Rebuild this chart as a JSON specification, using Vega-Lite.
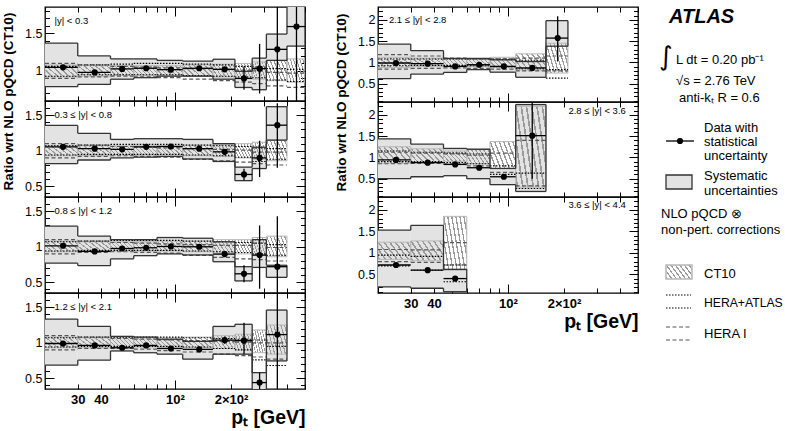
{
"$schema":"https://vega.github.io/schema/vega-lite/v6.json",
"padding":{"left":0,"top":5,"right":0,"bottom":0},
"background":"white",
"config":{"font":"Liberation Sans","view":{"stroke":"#000","strokeWidth":1.3},"axis":{"grid":false,"domain":false,"tickColor":"#000","labelColor":"#000","titleColor":"#000","labelFont":"Liberation Sans","titleFont":"Liberation Sans"}},
"datasets":{"d":[
{"p":"L1","lo":20,"hi":30,"xc":25,"v":1.048,"elo":1.038,"ehi":1.058,"slo":0.79,"shi":1.37,"clo":0.92,"chi":1.08,"alo":0.93,"ahi":1.06,"hlo":0.9,"hhi":1.1},
{"p":"L1","lo":30,"hi":45,"xc":37,"v":0.98,"elo":0.972,"ehi":0.988,"slo":0.82,"shi":1.2,"clo":0.93,"chi":1.07,"alo":0.95,"ahi":1.08,"hlo":0.92,"hhi":1.08},
{"p":"L1","lo":45,"hi":60,"xc":52,"v":1.027,"elo":1.02,"ehi":1.034,"slo":0.89,"shi":1.16,"clo":0.94,"chi":1.07,"alo":0.95,"ahi":1.09,"hlo":0.93,"hhi":1.06},
{"p":"L1","lo":60,"hi":80,"xc":70,"v":1.035,"elo":1.027,"ehi":1.043,"slo":0.91,"shi":1.16,"clo":0.94,"chi":1.07,"alo":0.95,"ahi":1.1,"hlo":0.92,"hhi":1.05},
{"p":"L1","lo":80,"hi":110,"xc":95,"v":1.017,"elo":1.008,"ehi":1.026,"slo":0.93,"shi":1.14,"clo":0.94,"chi":1.07,"alo":0.95,"ahi":1.1,"hlo":0.91,"hhi":1.04},
{"p":"L1","lo":110,"hi":160,"xc":135,"v":1.035,"elo":1.025,"ehi":1.045,"slo":0.93,"shi":1.13,"clo":0.93,"chi":1.08,"alo":0.94,"ahi":1.09,"hlo":0.89,"hhi":1.03},
{"p":"L1","lo":160,"hi":210,"xc":185,"v":1.021,"elo":0.99,"ehi":1.05,"slo":0.89,"shi":1.155,"clo":0.92,"chi":1.09,"alo":0.93,"ahi":1.08,"hlo":0.87,"hhi":1.02},
{"p":"L1","lo":210,"hi":260,"xc":235,"v":0.9,"elo":0.75,"ehi":1.06,"slo":0.78,"shi":0.995,"clo":0.9,"chi":1.1,"alo":0.92,"ahi":1.06,"hlo":0.85,"hhi":1.01},
{"p":"L1","lo":260,"hi":310,"xc":285,"v":1.03,"elo":0.7,"ehi":1.36,"slo":0.75,"shi":1.17,"clo":0.89,"chi":1.12,"alo":0.91,"ahi":1.05,"hlo":0.83,"hhi":1.0},
{"p":"L1","lo":310,"hi":400,"xc":355,"v":1.287,"elo":0.55,"ehi":2.0,"slo":1.14,"shi":1.49,"clo":0.87,"chi":1.14,"alo":0.88,"ahi":1.03,"hlo":0.8,"hhi":0.98},
{"p":"L1","lo":400,"hi":500,"xc":450,"v":1.59,"elo":0.5,"ehi":2.7,"slo":1.33,"shi":2.0,"clo":0.85,"chi":1.16,"alo":0.86,"ahi":1.02,"hlo":0.78,"hhi":0.97},
{"p":"L2","lo":20,"hi":30,"xc":25,"v":1.055,"elo":1.045,"ehi":1.065,"slo":0.82,"shi":1.357,"clo":0.93,"chi":1.07,"alo":0.94,"ahi":1.07,"hlo":0.9,"hhi":1.1},
{"p":"L2","lo":30,"hi":45,"xc":37,"v":1.03,"elo":1.022,"ehi":1.038,"slo":0.87,"shi":1.245,"clo":0.93,"chi":1.07,"alo":0.95,"ahi":1.08,"hlo":0.92,"hhi":1.08},
{"p":"L2","lo":45,"hi":60,"xc":52,"v":1.02,"elo":1.012,"ehi":1.028,"slo":0.9,"shi":1.16,"clo":0.94,"chi":1.07,"alo":0.95,"ahi":1.09,"hlo":0.93,"hhi":1.06},
{"p":"L2","lo":60,"hi":80,"xc":70,"v":1.055,"elo":1.046,"ehi":1.064,"slo":0.91,"shi":1.17,"clo":0.94,"chi":1.07,"alo":0.95,"ahi":1.09,"hlo":0.92,"hhi":1.05},
{"p":"L2","lo":80,"hi":110,"xc":95,"v":1.06,"elo":1.05,"ehi":1.07,"slo":0.92,"shi":1.17,"clo":0.94,"chi":1.07,"alo":0.95,"ahi":1.09,"hlo":0.91,"hhi":1.04},
{"p":"L2","lo":110,"hi":160,"xc":135,"v":1.03,"elo":1.018,"ehi":1.042,"slo":0.885,"shi":1.16,"clo":0.93,"chi":1.08,"alo":0.94,"ahi":1.08,"hlo":0.88,"hhi":1.03},
{"p":"L2","lo":160,"hi":210,"xc":185,"v":0.985,"elo":0.945,"ehi":1.025,"slo":0.85,"shi":1.1,"clo":0.92,"chi":1.09,"alo":0.93,"ahi":1.07,"hlo":0.86,"hhi":1.02},
{"p":"L2","lo":210,"hi":260,"xc":235,"v":0.667,"elo":0.587,"ehi":0.747,"slo":0.58,"shi":0.77,"clo":0.9,"chi":1.1,"alo":0.91,"ahi":1.06,"hlo":0.84,"hhi":1.01},
{"p":"L2","lo":260,"hi":310,"xc":285,"v":0.9,"elo":0.63,"ehi":1.14,"slo":0.75,"shi":1.05,"clo":0.88,"chi":1.12,"alo":0.85,"ahi":1.04,"hlo":0.82,"hhi":0.98},
{"p":"L2","lo":310,"hi":400,"xc":355,"v":1.36,"elo":0.76,"ehi":1.67,"slo":1.15,"shi":1.62,"clo":0.86,"chi":1.15,"alo":0.88,"ahi":1.03,"hlo":0.8,"hhi":0.98},
{"p":"L3","lo":20,"hi":30,"xc":25,"v":1.014,"elo":1.004,"ehi":1.024,"slo":0.77,"shi":1.29,"clo":0.93,"chi":1.08,"alo":0.94,"ahi":1.07,"hlo":0.9,"hhi":1.1},
{"p":"L3","lo":30,"hi":45,"xc":37,"v":0.935,"elo":0.927,"ehi":0.943,"slo":0.735,"shi":1.15,"clo":0.93,"chi":1.07,"alo":0.95,"ahi":1.08,"hlo":0.92,"hhi":1.08},
{"p":"L3","lo":45,"hi":60,"xc":52,"v":0.976,"elo":0.968,"ehi":0.984,"slo":0.83,"shi":1.1,"clo":0.94,"chi":1.07,"alo":0.95,"ahi":1.09,"hlo":0.93,"hhi":1.06},
{"p":"L3","lo":60,"hi":80,"xc":70,"v":0.986,"elo":0.977,"ehi":0.995,"slo":0.875,"shi":1.1,"clo":0.94,"chi":1.07,"alo":0.95,"ahi":1.09,"hlo":0.92,"hhi":1.05},
{"p":"L3","lo":80,"hi":110,"xc":95,"v":1.004,"elo":0.994,"ehi":1.014,"slo":0.9,"shi":1.13,"clo":0.94,"chi":1.08,"alo":0.95,"ahi":1.09,"hlo":0.91,"hhi":1.04},
{"p":"L3","lo":110,"hi":160,"xc":135,"v":1.0,"elo":0.988,"ehi":1.012,"slo":0.885,"shi":1.12,"clo":0.93,"chi":1.08,"alo":0.94,"ahi":1.08,"hlo":0.88,"hhi":1.03},
{"p":"L3","lo":160,"hi":210,"xc":185,"v":0.897,"elo":0.857,"ehi":0.937,"slo":0.79,"shi":1.07,"clo":0.91,"chi":1.1,"alo":0.93,"ahi":1.07,"hlo":0.85,"hhi":1.02},
{"p":"L3","lo":210,"hi":260,"xc":235,"v":0.62,"elo":0.5,"ehi":0.74,"slo":0.52,"shi":0.72,"clo":0.9,"chi":1.1,"alo":0.92,"ahi":1.06,"hlo":0.83,"hhi":1.02},
{"p":"L3","lo":260,"hi":310,"xc":285,"v":0.883,"elo":0.41,"ehi":1.3,"slo":0.71,"shi":1.1,"clo":0.88,"chi":1.13,"alo":0.9,"ahi":1.05,"hlo":0.82,"hhi":1.05},
{"p":"L3","lo":310,"hi":400,"xc":355,"v":0.72,"elo":0.0,"ehi":1.43,"slo":0.57,"shi":0.74,"clo":0.86,"chi":1.15,"alo":0.88,"ahi":1.03,"hlo":0.8,"hhi":0.99},
{"p":"L4","lo":20,"hi":30,"xc":25,"v":0.99,"elo":0.98,"ehi":1.0,"slo":0.685,"shi":1.333,"clo":0.93,"chi":1.08,"alo":0.94,"ahi":1.07,"hlo":0.9,"hhi":1.1},
{"p":"L4","lo":30,"hi":45,"xc":37,"v":0.963,"elo":0.955,"ehi":0.971,"slo":0.755,"shi":1.23,"clo":0.93,"chi":1.07,"alo":0.95,"ahi":1.08,"hlo":0.92,"hhi":1.08},
{"p":"L4","lo":45,"hi":60,"xc":52,"v":0.93,"elo":0.922,"ehi":0.938,"slo":0.885,"shi":1.09,"clo":0.94,"chi":1.07,"alo":0.95,"ahi":1.08,"hlo":0.92,"hhi":1.06},
{"p":"L4","lo":60,"hi":80,"xc":70,"v":0.963,"elo":0.954,"ehi":0.972,"slo":0.86,"shi":1.08,"clo":0.94,"chi":1.07,"alo":0.95,"ahi":1.08,"hlo":0.91,"hhi":1.05},
{"p":"L4","lo":80,"hi":110,"xc":95,"v":0.92,"elo":0.91,"ehi":0.93,"slo":0.84,"shi":1.05,"clo":0.94,"chi":1.07,"alo":0.95,"ahi":1.08,"hlo":0.89,"hhi":1.04},
{"p":"L4","lo":110,"hi":160,"xc":135,"v":0.907,"elo":0.895,"ehi":0.919,"slo":0.77,"shi":1.02,"clo":0.93,"chi":1.08,"alo":0.94,"ahi":1.07,"hlo":0.87,"hhi":1.03},
{"p":"L4","lo":160,"hi":210,"xc":185,"v":1.037,"elo":0.987,"ehi":1.087,"slo":0.84,"shi":1.23,"clo":0.92,"chi":1.1,"alo":0.92,"ahi":1.06,"hlo":0.84,"hhi":1.02},
{"p":"L4","lo":210,"hi":260,"xc":235,"v":1.03,"elo":0.84,"ehi":1.28,"slo":0.84,"shi":1.26,"clo":0.9,"chi":1.12,"alo":0.9,"ahi":1.05,"hlo":0.82,"hhi":1.01},
{"p":"L4","lo":260,"hi":310,"xc":285,"v":0.44,"elo":0.3,"ehi":0.58,"slo":0.3,"shi":0.58,"clo":0.86,"chi":1.18,"alo":0.76,"ahi":1.04,"hlo":0.8,"hhi":1.0},
{"p":"L4","lo":310,"hi":400,"xc":355,"v":1.115,"elo":0.0,"ehi":2.0,"slo":0.745,"shi":1.46,"clo":0.84,"chi":1.25,"alo":0.68,"ahi":0.95,"hlo":0.77,"hhi":1.0},
{"p":"R1","lo":20,"hi":30,"xc":25,"v":0.985,"elo":0.965,"ehi":1.005,"slo":0.62,"shi":1.43,"clo":0.88,"chi":1.12,"alo":0.92,"ahi":1.08,"hlo":0.84,"hhi":1.18},
{"p":"R1","lo":30,"hi":45,"xc":37,"v":0.97,"elo":0.95,"ehi":0.99,"slo":0.725,"shi":1.275,"clo":0.9,"chi":1.1,"alo":0.93,"ahi":1.08,"hlo":0.86,"hhi":1.15},
{"p":"R1","lo":45,"hi":60,"xc":52,"v":0.906,"elo":0.886,"ehi":0.926,"slo":0.765,"shi":1.09,"clo":0.9,"chi":1.1,"alo":0.93,"ahi":1.08,"hlo":0.87,"hhi":1.1},
{"p":"R1","lo":60,"hi":80,"xc":70,"v":0.945,"elo":0.925,"ehi":0.965,"slo":0.83,"shi":1.09,"clo":0.9,"chi":1.1,"alo":0.92,"ahi":1.08,"hlo":0.86,"hhi":1.08},
{"p":"R1","lo":80,"hi":110,"xc":95,"v":0.906,"elo":0.886,"ehi":0.926,"slo":0.77,"shi":1.06,"clo":0.88,"chi":1.12,"alo":0.9,"ahi":1.07,"hlo":0.84,"hhi":1.08},
{"p":"R1","lo":110,"hi":160,"xc":135,"v":0.87,"elo":0.82,"ehi":0.92,"slo":0.65,"shi":1.02,"clo":0.82,"chi":1.2,"alo":0.85,"ahi":1.05,"hlo":0.8,"hhi":1.1},
{"p":"R1","lo":160,"hi":210,"xc":185,"v":1.57,"elo":1.02,"ehi":2.08,"slo":1.38,"shi":1.98,"clo":0.75,"chi":1.45,"alo":0.63,"ahi":0.83,"hlo":0.8,"hhi":1.15},
{"p":"R2","lo":20,"hi":30,"xc":25,"v":0.94,"elo":0.92,"ehi":0.96,"slo":0.5,"shi":1.435,"clo":0.86,"chi":1.25,"alo":0.9,"ahi":1.15,"hlo":0.85,"hhi":1.12},
{"p":"R2","lo":30,"hi":45,"xc":37,"v":0.875,"elo":0.855,"ehi":0.895,"slo":0.545,"shi":1.31,"clo":0.88,"chi":1.2,"alo":0.9,"ahi":1.12,"hlo":0.86,"hhi":1.1},
{"p":"R2","lo":45,"hi":60,"xc":52,"v":0.835,"elo":0.815,"ehi":0.855,"slo":0.57,"shi":1.21,"clo":0.9,"chi":1.15,"alo":0.88,"ahi":1.1,"hlo":0.85,"hhi":1.08},
{"p":"R2","lo":60,"hi":80,"xc":70,"v":0.757,"elo":0.737,"ehi":0.777,"slo":0.5,"shi":1.19,"clo":0.85,"chi":1.2,"alo":0.85,"ahi":1.08,"hlo":0.8,"hhi":1.05},
{"p":"R2","lo":80,"hi":110,"xc":95,"v":0.545,"elo":0.505,"ehi":0.585,"slo":0.36,"shi":0.74,"clo":0.74,"chi":1.37,"alo":0.6,"ahi":0.8,"hlo":0.65,"hhi":1.1},
{"p":"R2","lo":110,"hi":160,"xc":135,"v":1.51,"elo":0.5,"ehi":2.3,"slo":0.2,"shi":2.24,"clo":0.3,"chi":2.2,"alo":0.27,"ahi":0.63,"hlo":0.33,"hhi":1.4},
{"p":"R3","lo":20,"hi":30,"xc":25,"v":0.72,"elo":0.68,"ehi":0.76,"slo":0.21,"shi":1.53,"clo":0.85,"chi":1.25,"alo":0.7,"ahi":0.95,"hlo":0.8,"hhi":1.08},
{"p":"R3","lo":30,"hi":45,"xc":37,"v":0.6,"elo":0.56,"ehi":0.64,"slo":0.18,"shi":1.64,"clo":0.82,"chi":1.28,"alo":0.6,"ahi":0.92,"hlo":0.78,"hhi":1.07},
{"p":"R3","lo":45,"hi":60,"xc":52,"v":0.405,"elo":0.355,"ehi":0.455,"slo":0.1,"shi":0.62,"clo":0.6,"chi":1.85,"alo":0.33,"ahi":0.72,"hlo":0.72,"hhi":1.24}
]},
"hconcat":[
{"hconcat":[
{"vconcat":[
{"width":260,"height":94,"data":{"name":"d"},
"transform":[{"filter":"datum.p == 'L1'"},{"window":[{"op":"lag","field":"shi","as":"pshi"},{"op":"lag","field":"slo","as":"pslo"},{"op":"lead","field":"lo","as":"nlo"}],"sort":[{"field":"lo"}]}],
"resolve":{"axis":{"x":"independent","y":"independent"}},
"layer":[
{"mark":{"type":"rect","fill":"#e3e3e3","clip":true},"encoding":{"x":{"field":"lo","type":"quantitative","scale":{"type":"log","domain":[20,500],"nice":false},"axis":{"orient":"bottom","values":[20,30,40,50,60,70,80,90,100,200,300,400,500],"labels":false,"title":null,"tickSize":{"condition":{"test":"datum.value == 100","value":-9},"value":-5}}},"x2":{"field":"hi"},"y":{"field":"slo","type":"quantitative","scale":{"domain":[0.6,1.85],"nice":false,"zero":false},"axis":{"orient":"left","values":[0.4,0.5,0.6,0.7,0.8,0.9,1,1.1,1.2,1.3,1.4,1.5,1.6,1.7,1.8],"labels":false,"title":null,"tickSize":{"condition":{"test":"abs(datum.value*2-round(datum.value*2))<0.001","value":-9},"value":-4.5}}},"y2":{"field":"shi"}}},
{"mark":{"type":"rect","fill":{"gradient":"linear","x1":-0.1,"y1":0.74,"x2":1.1,"y2":0.26,"stops":[{"offset":0,"color":"rgba(255,255,255,0)"},{"offset":0.02,"color":"rgba(255,255,255,0)"},{"offset":0.02,"color":"#9a9a9a"},{"offset":0.06,"color":"#9a9a9a"},{"offset":0.06,"color":"rgba(255,255,255,0)"},{"offset":0.145,"color":"rgba(255,255,255,0)"},{"offset":0.145,"color":"#9a9a9a"},{"offset":0.185,"color":"#9a9a9a"},{"offset":0.185,"color":"rgba(255,255,255,0)"},{"offset":0.27,"color":"rgba(255,255,255,0)"},{"offset":0.27,"color":"#9a9a9a"},{"offset":0.31,"color":"#9a9a9a"},{"offset":0.31,"color":"rgba(255,255,255,0)"},{"offset":0.395,"color":"rgba(255,255,255,0)"},{"offset":0.395,"color":"#9a9a9a"},{"offset":0.435,"color":"#9a9a9a"},{"offset":0.435,"color":"rgba(255,255,255,0)"},{"offset":0.52,"color":"rgba(255,255,255,0)"},{"offset":0.52,"color":"#9a9a9a"},{"offset":0.56,"color":"#9a9a9a"},{"offset":0.56,"color":"rgba(255,255,255,0)"},{"offset":0.645,"color":"rgba(255,255,255,0)"},{"offset":0.645,"color":"#9a9a9a"},{"offset":0.685,"color":"#9a9a9a"},{"offset":0.685,"color":"rgba(255,255,255,0)"},{"offset":0.77,"color":"rgba(255,255,255,0)"},{"offset":0.77,"color":"#9a9a9a"},{"offset":0.81,"color":"#9a9a9a"},{"offset":0.81,"color":"rgba(255,255,255,0)"},{"offset":0.895,"color":"rgba(255,255,255,0)"},{"offset":0.895,"color":"#9a9a9a"},{"offset":0.935,"color":"#9a9a9a"},{"offset":0.935,"color":"rgba(255,255,255,0)"},{"offset":1,"color":"rgba(255,255,255,0)"}]},"stroke":"#b8b8b8","strokeWidth":1,"clip":true},"encoding":{"x":{"field":"lo","type":"quantitative","axis":{"orient":"top","values":[20,30,40,50,60,70,80,90,100,200,300,400,500],"labels":false,"title":null,"tickSize":{"condition":{"test":"datum.value == 100","value":-9},"value":-5}}},"x2":{"field":"hi"},"y":{"field":"clo","type":"quantitative","axis":{"orient":"right","values":[0.4,0.5,0.6,0.7,0.8,0.9,1,1.1,1.2,1.3,1.4,1.5,1.6,1.7,1.8],"labels":false,"title":null,"tickSize":{"condition":{"test":"abs(datum.value*2-round(datum.value*2))<0.001","value":-9},"value":-4.5}}},"y2":{"field":"chi"}}},
{"mark":{"type":"rule","stroke":"#000","strokeDash":[1.5,1.5],"strokeWidth":1.1,"clip":true},"encoding":{"x":{"field":"lo","type":"quantitative","axis":null},"x2":{"field":"hi"},"y":{"field":"ahi","type":"quantitative","axis":{"orient":"left","values":[0.5,1,1.5],"ticks":false,"labelPadding":3,"format":"~g","labelFontSize":12.5,"title":"Ratio wrt NLO pQCD (CT10)","titleFontSize":13.5,"titleFontWeight":"bold","titleY":94,"titlePadding":9}}}},
{"mark":{"type":"rule","stroke":"#000","strokeDash":[1.5,1.5],"strokeWidth":1.1,"clip":true},"encoding":{"x":{"field":"lo","type":"quantitative","axis":null},"x2":{"field":"hi"},"y":{"field":"alo","type":"quantitative","axis":null}}},
{"mark":{"type":"rule","stroke":"#555","strokeDash":[4,2.5],"strokeWidth":1.2,"clip":true},"encoding":{"x":{"field":"lo","type":"quantitative","axis":null},"x2":{"field":"hi"},"y":{"field":"hhi","type":"quantitative","axis":null}}},
{"mark":{"type":"rule","stroke":"#555","strokeDash":[4,2.5],"strokeWidth":1.2,"clip":true},"encoding":{"x":{"field":"lo","type":"quantitative","axis":null},"x2":{"field":"hi"},"y":{"field":"hlo","type":"quantitative","axis":null}}},
{"mark":{"type":"rule","stroke":"#333","strokeWidth":1.3,"clip":true},"encoding":{"x":{"field":"lo","type":"quantitative","axis":null},"x2":{"field":"hi"},"y":{"field":"shi","type":"quantitative","axis":null}}},
{"mark":{"type":"rule","stroke":"#333","strokeWidth":1.3,"clip":true},"encoding":{"x":{"field":"lo","type":"quantitative","axis":null},"x2":{"field":"hi"},"y":{"field":"slo","type":"quantitative","axis":null}}},
{"mark":{"type":"rule","stroke":"#333","strokeWidth":1.3,"clip":true},"encoding":{"x":{"field":"lo","type":"quantitative","axis":null},"y":{"field":"pshi","type":"quantitative","axis":null},"y2":{"field":"shi"}}},
{"mark":{"type":"rule","stroke":"#333","strokeWidth":1.3,"clip":true},"encoding":{"x":{"field":"lo","type":"quantitative","axis":null},"y":{"field":"pslo","type":"quantitative","axis":null},"y2":{"field":"slo"}}},
{"transform":[{"filter":"datum.nlo == null"}],"mark":{"type":"rule","stroke":"#333","strokeWidth":1.3,"clip":true},"encoding":{"x":{"field":"hi","type":"quantitative","axis":null},"y":{"field":"slo","type":"quantitative","axis":null},"y2":{"field":"shi"}}},
{"mark":{"type":"rule","stroke":"#000","strokeWidth":1.3,"clip":true},"encoding":{"x":{"field":"lo","type":"quantitative","axis":null},"x2":{"field":"hi"},"y":{"field":"v","type":"quantitative","axis":null}}},
{"mark":{"type":"rule","stroke":"#000","strokeWidth":1.3,"clip":true},"encoding":{"x":{"field":"xc","type":"quantitative","axis":null},"y":{"field":"elo","type":"quantitative","axis":null},"y2":{"field":"ehi"}}},
{"mark":{"type":"point","filled":true,"shape":"circle","size":38,"color":"#000","opacity":1,"clip":true},"encoding":{"x":{"field":"xc","type":"quantitative","axis":null},"y":{"field":"v","type":"quantitative","axis":null}}},
{"transform":[{"filter":"datum.lo == 20"}],"mark":{"type":"text","text":"|y| < 0.3","align":"left","baseline":"middle","fontSize":9.5},"encoding":{"x":{"datum":22.5,"type":"quantitative","axis":null},"y":{"datum":1.67,"type":"quantitative","axis":null}}}
]},
{"width":260,"height":96,"data":{"name":"d"},
"transform":[{"filter":"datum.p == 'L2'"},{"window":[{"op":"lag","field":"shi","as":"pshi"},{"op":"lag","field":"slo","as":"pslo"},{"op":"lead","field":"lo","as":"nlo"}],"sort":[{"field":"lo"}]}],
"resolve":{"axis":{"x":"independent","y":"independent"}},
"layer":[
{"mark":{"type":"rect","fill":"#e3e3e3","clip":true},"encoding":{"x":{"field":"lo","type":"quantitative","scale":{"type":"log","domain":[20,500],"nice":false},"axis":{"orient":"bottom","values":[20,30,40,50,60,70,80,90,100,200,300,400,500],"labels":false,"title":null,"tickSize":{"condition":{"test":"datum.value == 100","value":-9},"value":-5}}},"x2":{"field":"hi"},"y":{"field":"slo","type":"quantitative","scale":{"domain":[0.35,1.7],"nice":false,"zero":false},"axis":{"orient":"left","values":[0.4,0.5,0.6,0.7,0.8,0.9,1,1.1,1.2,1.3,1.4,1.5,1.6,1.7,1.8],"labels":false,"title":null,"tickSize":{"condition":{"test":"abs(datum.value*2-round(datum.value*2))<0.001","value":-9},"value":-4.5}}},"y2":{"field":"shi"}}},
{"mark":{"type":"rect","fill":{"gradient":"linear","x1":-0.1,"y1":0.74,"x2":1.1,"y2":0.26,"stops":[{"offset":0,"color":"rgba(255,255,255,0)"},{"offset":0.02,"color":"rgba(255,255,255,0)"},{"offset":0.02,"color":"#9a9a9a"},{"offset":0.06,"color":"#9a9a9a"},{"offset":0.06,"color":"rgba(255,255,255,0)"},{"offset":0.145,"color":"rgba(255,255,255,0)"},{"offset":0.145,"color":"#9a9a9a"},{"offset":0.185,"color":"#9a9a9a"},{"offset":0.185,"color":"rgba(255,255,255,0)"},{"offset":0.27,"color":"rgba(255,255,255,0)"},{"offset":0.27,"color":"#9a9a9a"},{"offset":0.31,"color":"#9a9a9a"},{"offset":0.31,"color":"rgba(255,255,255,0)"},{"offset":0.395,"color":"rgba(255,255,255,0)"},{"offset":0.395,"color":"#9a9a9a"},{"offset":0.435,"color":"#9a9a9a"},{"offset":0.435,"color":"rgba(255,255,255,0)"},{"offset":0.52,"color":"rgba(255,255,255,0)"},{"offset":0.52,"color":"#9a9a9a"},{"offset":0.56,"color":"#9a9a9a"},{"offset":0.56,"color":"rgba(255,255,255,0)"},{"offset":0.645,"color":"rgba(255,255,255,0)"},{"offset":0.645,"color":"#9a9a9a"},{"offset":0.685,"color":"#9a9a9a"},{"offset":0.685,"color":"rgba(255,255,255,0)"},{"offset":0.77,"color":"rgba(255,255,255,0)"},{"offset":0.77,"color":"#9a9a9a"},{"offset":0.81,"color":"#9a9a9a"},{"offset":0.81,"color":"rgba(255,255,255,0)"},{"offset":0.895,"color":"rgba(255,255,255,0)"},{"offset":0.895,"color":"#9a9a9a"},{"offset":0.935,"color":"#9a9a9a"},{"offset":0.935,"color":"rgba(255,255,255,0)"},{"offset":1,"color":"rgba(255,255,255,0)"}]},"stroke":"#b8b8b8","strokeWidth":1,"clip":true},"encoding":{"x":{"field":"lo","type":"quantitative","axis":{"orient":"top","values":[20,30,40,50,60,70,80,90,100,200,300,400,500],"labels":false,"title":null,"tickSize":{"condition":{"test":"datum.value == 100","value":-9},"value":-5}}},"x2":{"field":"hi"},"y":{"field":"clo","type":"quantitative","axis":{"orient":"right","values":[0.4,0.5,0.6,0.7,0.8,0.9,1,1.1,1.2,1.3,1.4,1.5,1.6,1.7,1.8],"labels":false,"title":null,"tickSize":{"condition":{"test":"abs(datum.value*2-round(datum.value*2))<0.001","value":-9},"value":-4.5}}},"y2":{"field":"chi"}}},
{"mark":{"type":"rule","stroke":"#000","strokeDash":[1.5,1.5],"strokeWidth":1.1,"clip":true},"encoding":{"x":{"field":"lo","type":"quantitative","axis":null},"x2":{"field":"hi"},"y":{"field":"ahi","type":"quantitative","axis":{"orient":"left","values":[0.5,1,1.5],"ticks":false,"labelPadding":3,"format":"~g","labelFontSize":12.5,"title":null}}}},
{"mark":{"type":"rule","stroke":"#000","strokeDash":[1.5,1.5],"strokeWidth":1.1,"clip":true},"encoding":{"x":{"field":"lo","type":"quantitative","axis":null},"x2":{"field":"hi"},"y":{"field":"alo","type":"quantitative","axis":null}}},
{"mark":{"type":"rule","stroke":"#555","strokeDash":[4,2.5],"strokeWidth":1.2,"clip":true},"encoding":{"x":{"field":"lo","type":"quantitative","axis":null},"x2":{"field":"hi"},"y":{"field":"hhi","type":"quantitative","axis":null}}},
{"mark":{"type":"rule","stroke":"#555","strokeDash":[4,2.5],"strokeWidth":1.2,"clip":true},"encoding":{"x":{"field":"lo","type":"quantitative","axis":null},"x2":{"field":"hi"},"y":{"field":"hlo","type":"quantitative","axis":null}}},
{"mark":{"type":"rule","stroke":"#333","strokeWidth":1.3,"clip":true},"encoding":{"x":{"field":"lo","type":"quantitative","axis":null},"x2":{"field":"hi"},"y":{"field":"shi","type":"quantitative","axis":null}}},
{"mark":{"type":"rule","stroke":"#333","strokeWidth":1.3,"clip":true},"encoding":{"x":{"field":"lo","type":"quantitative","axis":null},"x2":{"field":"hi"},"y":{"field":"slo","type":"quantitative","axis":null}}},
{"mark":{"type":"rule","stroke":"#333","strokeWidth":1.3,"clip":true},"encoding":{"x":{"field":"lo","type":"quantitative","axis":null},"y":{"field":"pshi","type":"quantitative","axis":null},"y2":{"field":"shi"}}},
{"mark":{"type":"rule","stroke":"#333","strokeWidth":1.3,"clip":true},"encoding":{"x":{"field":"lo","type":"quantitative","axis":null},"y":{"field":"pslo","type":"quantitative","axis":null},"y2":{"field":"slo"}}},
{"transform":[{"filter":"datum.nlo == null"}],"mark":{"type":"rule","stroke":"#333","strokeWidth":1.3,"clip":true},"encoding":{"x":{"field":"hi","type":"quantitative","axis":null},"y":{"field":"slo","type":"quantitative","axis":null},"y2":{"field":"shi"}}},
{"mark":{"type":"rule","stroke":"#000","strokeWidth":1.3,"clip":true},"encoding":{"x":{"field":"lo","type":"quantitative","axis":null},"x2":{"field":"hi"},"y":{"field":"v","type":"quantitative","axis":null}}},
{"mark":{"type":"rule","stroke":"#000","strokeWidth":1.3,"clip":true},"encoding":{"x":{"field":"xc","type":"quantitative","axis":null},"y":{"field":"elo","type":"quantitative","axis":null},"y2":{"field":"ehi"}}},
{"mark":{"type":"point","filled":true,"shape":"circle","size":38,"color":"#000","opacity":1,"clip":true},"encoding":{"x":{"field":"xc","type":"quantitative","axis":null},"y":{"field":"v","type":"quantitative","axis":null}}},
{"transform":[{"filter":"datum.lo == 20"}],"mark":{"type":"text","text":"0.3 ≤ |y| < 0.8","align":"left","baseline":"middle","fontSize":9.5},"encoding":{"x":{"datum":22.5,"type":"quantitative","axis":null},"y":{"datum":1.5,"type":"quantitative","axis":null}}}
]},
{"width":260,"height":96,"data":{"name":"d"},
"transform":[{"filter":"datum.p == 'L3'"},{"window":[{"op":"lag","field":"shi","as":"pshi"},{"op":"lag","field":"slo","as":"pslo"},{"op":"lead","field":"lo","as":"nlo"}],"sort":[{"field":"lo"}]}],
"resolve":{"axis":{"x":"independent","y":"independent"}},
"layer":[
{"mark":{"type":"rect","fill":"#e3e3e3","clip":true},"encoding":{"x":{"field":"lo","type":"quantitative","scale":{"type":"log","domain":[20,500],"nice":false},"axis":{"orient":"bottom","values":[20,30,40,50,60,70,80,90,100,200,300,400,500],"labels":false,"title":null,"tickSize":{"condition":{"test":"datum.value == 100","value":-9},"value":-5}}},"x2":{"field":"hi"},"y":{"field":"slo","type":"quantitative","scale":{"domain":[0.35,1.7],"nice":false,"zero":false},"axis":{"orient":"left","values":[0.4,0.5,0.6,0.7,0.8,0.9,1,1.1,1.2,1.3,1.4,1.5,1.6,1.7,1.8],"labels":false,"title":null,"tickSize":{"condition":{"test":"abs(datum.value*2-round(datum.value*2))<0.001","value":-9},"value":-4.5}}},"y2":{"field":"shi"}}},
{"mark":{"type":"rect","fill":{"gradient":"linear","x1":-0.1,"y1":0.74,"x2":1.1,"y2":0.26,"stops":[{"offset":0,"color":"rgba(255,255,255,0)"},{"offset":0.02,"color":"rgba(255,255,255,0)"},{"offset":0.02,"color":"#9a9a9a"},{"offset":0.06,"color":"#9a9a9a"},{"offset":0.06,"color":"rgba(255,255,255,0)"},{"offset":0.145,"color":"rgba(255,255,255,0)"},{"offset":0.145,"color":"#9a9a9a"},{"offset":0.185,"color":"#9a9a9a"},{"offset":0.185,"color":"rgba(255,255,255,0)"},{"offset":0.27,"color":"rgba(255,255,255,0)"},{"offset":0.27,"color":"#9a9a9a"},{"offset":0.31,"color":"#9a9a9a"},{"offset":0.31,"color":"rgba(255,255,255,0)"},{"offset":0.395,"color":"rgba(255,255,255,0)"},{"offset":0.395,"color":"#9a9a9a"},{"offset":0.435,"color":"#9a9a9a"},{"offset":0.435,"color":"rgba(255,255,255,0)"},{"offset":0.52,"color":"rgba(255,255,255,0)"},{"offset":0.52,"color":"#9a9a9a"},{"offset":0.56,"color":"#9a9a9a"},{"offset":0.56,"color":"rgba(255,255,255,0)"},{"offset":0.645,"color":"rgba(255,255,255,0)"},{"offset":0.645,"color":"#9a9a9a"},{"offset":0.685,"color":"#9a9a9a"},{"offset":0.685,"color":"rgba(255,255,255,0)"},{"offset":0.77,"color":"rgba(255,255,255,0)"},{"offset":0.77,"color":"#9a9a9a"},{"offset":0.81,"color":"#9a9a9a"},{"offset":0.81,"color":"rgba(255,255,255,0)"},{"offset":0.895,"color":"rgba(255,255,255,0)"},{"offset":0.895,"color":"#9a9a9a"},{"offset":0.935,"color":"#9a9a9a"},{"offset":0.935,"color":"rgba(255,255,255,0)"},{"offset":1,"color":"rgba(255,255,255,0)"}]},"stroke":"#b8b8b8","strokeWidth":1,"clip":true},"encoding":{"x":{"field":"lo","type":"quantitative","axis":{"orient":"top","values":[20,30,40,50,60,70,80,90,100,200,300,400,500],"labels":false,"title":null,"tickSize":{"condition":{"test":"datum.value == 100","value":-9},"value":-5}}},"x2":{"field":"hi"},"y":{"field":"clo","type":"quantitative","axis":{"orient":"right","values":[0.4,0.5,0.6,0.7,0.8,0.9,1,1.1,1.2,1.3,1.4,1.5,1.6,1.7,1.8],"labels":false,"title":null,"tickSize":{"condition":{"test":"abs(datum.value*2-round(datum.value*2))<0.001","value":-9},"value":-4.5}}},"y2":{"field":"chi"}}},
{"mark":{"type":"rule","stroke":"#000","strokeDash":[1.5,1.5],"strokeWidth":1.1,"clip":true},"encoding":{"x":{"field":"lo","type":"quantitative","axis":null},"x2":{"field":"hi"},"y":{"field":"ahi","type":"quantitative","axis":{"orient":"left","values":[0.5,1,1.5],"ticks":false,"labelPadding":3,"format":"~g","labelFontSize":12.5,"title":null}}}},
{"mark":{"type":"rule","stroke":"#000","strokeDash":[1.5,1.5],"strokeWidth":1.1,"clip":true},"encoding":{"x":{"field":"lo","type":"quantitative","axis":null},"x2":{"field":"hi"},"y":{"field":"alo","type":"quantitative","axis":null}}},
{"mark":{"type":"rule","stroke":"#555","strokeDash":[4,2.5],"strokeWidth":1.2,"clip":true},"encoding":{"x":{"field":"lo","type":"quantitative","axis":null},"x2":{"field":"hi"},"y":{"field":"hhi","type":"quantitative","axis":null}}},
{"mark":{"type":"rule","stroke":"#555","strokeDash":[4,2.5],"strokeWidth":1.2,"clip":true},"encoding":{"x":{"field":"lo","type":"quantitative","axis":null},"x2":{"field":"hi"},"y":{"field":"hlo","type":"quantitative","axis":null}}},
{"mark":{"type":"rule","stroke":"#333","strokeWidth":1.3,"clip":true},"encoding":{"x":{"field":"lo","type":"quantitative","axis":null},"x2":{"field":"hi"},"y":{"field":"shi","type":"quantitative","axis":null}}},
{"mark":{"type":"rule","stroke":"#333","strokeWidth":1.3,"clip":true},"encoding":{"x":{"field":"lo","type":"quantitative","axis":null},"x2":{"field":"hi"},"y":{"field":"slo","type":"quantitative","axis":null}}},
{"mark":{"type":"rule","stroke":"#333","strokeWidth":1.3,"clip":true},"encoding":{"x":{"field":"lo","type":"quantitative","axis":null},"y":{"field":"pshi","type":"quantitative","axis":null},"y2":{"field":"shi"}}},
{"mark":{"type":"rule","stroke":"#333","strokeWidth":1.3,"clip":true},"encoding":{"x":{"field":"lo","type":"quantitative","axis":null},"y":{"field":"pslo","type":"quantitative","axis":null},"y2":{"field":"slo"}}},
{"transform":[{"filter":"datum.nlo == null"}],"mark":{"type":"rule","stroke":"#333","strokeWidth":1.3,"clip":true},"encoding":{"x":{"field":"hi","type":"quantitative","axis":null},"y":{"field":"slo","type":"quantitative","axis":null},"y2":{"field":"shi"}}},
{"mark":{"type":"rule","stroke":"#000","strokeWidth":1.3,"clip":true},"encoding":{"x":{"field":"lo","type":"quantitative","axis":null},"x2":{"field":"hi"},"y":{"field":"v","type":"quantitative","axis":null}}},
{"mark":{"type":"rule","stroke":"#000","strokeWidth":1.3,"clip":true},"encoding":{"x":{"field":"xc","type":"quantitative","axis":null},"y":{"field":"elo","type":"quantitative","axis":null},"y2":{"field":"ehi"}}},
{"mark":{"type":"point","filled":true,"shape":"circle","size":38,"color":"#000","opacity":1,"clip":true},"encoding":{"x":{"field":"xc","type":"quantitative","axis":null},"y":{"field":"v","type":"quantitative","axis":null}}},
{"transform":[{"filter":"datum.lo == 20"}],"mark":{"type":"text","text":"0.8 ≤ |y| < 1.2","align":"left","baseline":"middle","fontSize":9.5},"encoding":{"x":{"datum":22.5,"type":"quantitative","axis":null},"y":{"datum":1.5,"type":"quantitative","axis":null}}}
]},
{"width":260,"height":96,"data":{"name":"d"},
"transform":[{"filter":"datum.p == 'L4'"},{"window":[{"op":"lag","field":"shi","as":"pshi"},{"op":"lag","field":"slo","as":"pslo"},{"op":"lead","field":"lo","as":"nlo"}],"sort":[{"field":"lo"}]}],
"resolve":{"axis":{"x":"independent","y":"independent"}},
"layer":[
{"mark":{"type":"rect","fill":"#e3e3e3","clip":true},"encoding":{"x":{"field":"lo","type":"quantitative","scale":{"type":"log","domain":[20,500],"nice":false},"axis":{"orient":"bottom","values":[20,30,40,50,60,70,80,90,100,200,300,400,500],"labels":false,"title":null,"tickSize":{"condition":{"test":"datum.value == 100","value":-9},"value":-5}}},"x2":{"field":"hi"},"y":{"field":"slo","type":"quantitative","scale":{"domain":[0.35,1.7],"nice":false,"zero":false},"axis":{"orient":"left","values":[0.4,0.5,0.6,0.7,0.8,0.9,1,1.1,1.2,1.3,1.4,1.5,1.6,1.7,1.8],"labels":false,"title":null,"tickSize":{"condition":{"test":"abs(datum.value*2-round(datum.value*2))<0.001","value":-9},"value":-4.5}}},"y2":{"field":"shi"}}},
{"mark":{"type":"rect","fill":{"gradient":"linear","x1":-0.1,"y1":0.74,"x2":1.1,"y2":0.26,"stops":[{"offset":0,"color":"rgba(255,255,255,0)"},{"offset":0.02,"color":"rgba(255,255,255,0)"},{"offset":0.02,"color":"#9a9a9a"},{"offset":0.06,"color":"#9a9a9a"},{"offset":0.06,"color":"rgba(255,255,255,0)"},{"offset":0.145,"color":"rgba(255,255,255,0)"},{"offset":0.145,"color":"#9a9a9a"},{"offset":0.185,"color":"#9a9a9a"},{"offset":0.185,"color":"rgba(255,255,255,0)"},{"offset":0.27,"color":"rgba(255,255,255,0)"},{"offset":0.27,"color":"#9a9a9a"},{"offset":0.31,"color":"#9a9a9a"},{"offset":0.31,"color":"rgba(255,255,255,0)"},{"offset":0.395,"color":"rgba(255,255,255,0)"},{"offset":0.395,"color":"#9a9a9a"},{"offset":0.435,"color":"#9a9a9a"},{"offset":0.435,"color":"rgba(255,255,255,0)"},{"offset":0.52,"color":"rgba(255,255,255,0)"},{"offset":0.52,"color":"#9a9a9a"},{"offset":0.56,"color":"#9a9a9a"},{"offset":0.56,"color":"rgba(255,255,255,0)"},{"offset":0.645,"color":"rgba(255,255,255,0)"},{"offset":0.645,"color":"#9a9a9a"},{"offset":0.685,"color":"#9a9a9a"},{"offset":0.685,"color":"rgba(255,255,255,0)"},{"offset":0.77,"color":"rgba(255,255,255,0)"},{"offset":0.77,"color":"#9a9a9a"},{"offset":0.81,"color":"#9a9a9a"},{"offset":0.81,"color":"rgba(255,255,255,0)"},{"offset":0.895,"color":"rgba(255,255,255,0)"},{"offset":0.895,"color":"#9a9a9a"},{"offset":0.935,"color":"#9a9a9a"},{"offset":0.935,"color":"rgba(255,255,255,0)"},{"offset":1,"color":"rgba(255,255,255,0)"}]},"stroke":"#b8b8b8","strokeWidth":1,"clip":true},"encoding":{"x":{"field":"lo","type":"quantitative","axis":{"orient":"top","values":[20,30,40,50,60,70,80,90,100,200,300,400,500],"labels":false,"title":null,"tickSize":{"condition":{"test":"datum.value == 100","value":-9},"value":-5}}},"x2":{"field":"hi"},"y":{"field":"clo","type":"quantitative","axis":{"orient":"right","values":[0.4,0.5,0.6,0.7,0.8,0.9,1,1.1,1.2,1.3,1.4,1.5,1.6,1.7,1.8],"labels":false,"title":null,"tickSize":{"condition":{"test":"abs(datum.value*2-round(datum.value*2))<0.001","value":-9},"value":-4.5}}},"y2":{"field":"chi"}}},
{"mark":{"type":"rule","stroke":"#000","strokeDash":[1.5,1.5],"strokeWidth":1.1,"clip":true},"encoding":{"x":{"field":"lo","type":"quantitative","axis":{"orient":"bottom","values":[30,40,100,200],"ticks":false,"labelPadding":4,"labelFontSize":13,"labelFontWeight":"bold","labelOverlap":false,"labelFlush":false,"format":"d","labelExpr":"datum.value == 100 ? '10²' : datum.value == 200 ? '2×10²' : datum.label","title":"pₜ  [GeV]","titleFontSize":19.5,"titleFontWeight":"bold","titleAnchor":"end","titlePadding":2.5}},"x2":{"field":"hi"},"y":{"field":"ahi","type":"quantitative","axis":{"orient":"left","values":[0.5,1,1.5],"ticks":false,"labelPadding":3,"format":"~g","labelFontSize":12.5,"title":null}}}},
{"mark":{"type":"rule","stroke":"#000","strokeDash":[1.5,1.5],"strokeWidth":1.1,"clip":true},"encoding":{"x":{"field":"lo","type":"quantitative","axis":null},"x2":{"field":"hi"},"y":{"field":"alo","type":"quantitative","axis":null}}},
{"mark":{"type":"rule","stroke":"#555","strokeDash":[4,2.5],"strokeWidth":1.2,"clip":true},"encoding":{"x":{"field":"lo","type":"quantitative","axis":null},"x2":{"field":"hi"},"y":{"field":"hhi","type":"quantitative","axis":null}}},
{"mark":{"type":"rule","stroke":"#555","strokeDash":[4,2.5],"strokeWidth":1.2,"clip":true},"encoding":{"x":{"field":"lo","type":"quantitative","axis":null},"x2":{"field":"hi"},"y":{"field":"hlo","type":"quantitative","axis":null}}},
{"mark":{"type":"rule","stroke":"#333","strokeWidth":1.3,"clip":true},"encoding":{"x":{"field":"lo","type":"quantitative","axis":null},"x2":{"field":"hi"},"y":{"field":"shi","type":"quantitative","axis":null}}},
{"mark":{"type":"rule","stroke":"#333","strokeWidth":1.3,"clip":true},"encoding":{"x":{"field":"lo","type":"quantitative","axis":null},"x2":{"field":"hi"},"y":{"field":"slo","type":"quantitative","axis":null}}},
{"mark":{"type":"rule","stroke":"#333","strokeWidth":1.3,"clip":true},"encoding":{"x":{"field":"lo","type":"quantitative","axis":null},"y":{"field":"pshi","type":"quantitative","axis":null},"y2":{"field":"shi"}}},
{"mark":{"type":"rule","stroke":"#333","strokeWidth":1.3,"clip":true},"encoding":{"x":{"field":"lo","type":"quantitative","axis":null},"y":{"field":"pslo","type":"quantitative","axis":null},"y2":{"field":"slo"}}},
{"transform":[{"filter":"datum.nlo == null"}],"mark":{"type":"rule","stroke":"#333","strokeWidth":1.3,"clip":true},"encoding":{"x":{"field":"hi","type":"quantitative","axis":null},"y":{"field":"slo","type":"quantitative","axis":null},"y2":{"field":"shi"}}},
{"mark":{"type":"rule","stroke":"#000","strokeWidth":1.3,"clip":true},"encoding":{"x":{"field":"lo","type":"quantitative","axis":null},"x2":{"field":"hi"},"y":{"field":"v","type":"quantitative","axis":null}}},
{"mark":{"type":"rule","stroke":"#000","strokeWidth":1.3,"clip":true},"encoding":{"x":{"field":"xc","type":"quantitative","axis":null},"y":{"field":"elo","type":"quantitative","axis":null},"y2":{"field":"ehi"}}},
{"mark":{"type":"point","filled":true,"shape":"circle","size":38,"color":"#000","opacity":1,"clip":true},"encoding":{"x":{"field":"xc","type":"quantitative","axis":null},"y":{"field":"v","type":"quantitative","axis":null}}},
{"transform":[{"filter":"datum.lo == 20"}],"mark":{"type":"text","text":"1.2 ≤ |y| < 2.1","align":"left","baseline":"middle","fontSize":9.5},"encoding":{"x":{"datum":22.5,"type":"quantitative","axis":null},"y":{"datum":1.5,"type":"quantitative","axis":null}}}
]}
],"spacing":0,"bounds":"flush"},
{"vconcat":[
{"width":260,"height":95,"data":{"name":"d"},
"transform":[{"filter":"datum.p == 'R1'"},{"window":[{"op":"lag","field":"shi","as":"pshi"},{"op":"lag","field":"slo","as":"pslo"},{"op":"lead","field":"lo","as":"nlo"}],"sort":[{"field":"lo"}]}],
"resolve":{"axis":{"x":"independent","y":"independent"}},
"layer":[
{"mark":{"type":"rect","fill":"#e3e3e3","clip":true},"encoding":{"x":{"field":"lo","type":"quantitative","scale":{"type":"log","domain":[20,500],"nice":false},"axis":{"orient":"bottom","values":[20,30,40,50,60,70,80,90,100,200,300,400,500],"labels":false,"title":null,"tickSize":{"condition":{"test":"datum.value == 100","value":-9},"value":-5}}},"x2":{"field":"hi"},"y":{"field":"slo","type":"quantitative","scale":{"domain":[0.07,2.3],"nice":false,"zero":false},"axis":{"orient":"left","values":[0.1,0.2,0.3,0.4,0.5,0.6,0.7,0.8,0.9,1,1.1,1.2,1.3,1.4,1.5,1.6,1.7,1.8,1.9,2,2.1,2.2],"labels":false,"title":null,"tickSize":{"condition":{"test":"abs(datum.value*2-round(datum.value*2))<0.001","value":-9},"value":-4.5}}},"y2":{"field":"shi"}}},
{"mark":{"type":"rect","fill":{"gradient":"linear","x1":-0.1,"y1":0.74,"x2":1.1,"y2":0.26,"stops":[{"offset":0,"color":"rgba(255,255,255,0)"},{"offset":0.02,"color":"rgba(255,255,255,0)"},{"offset":0.02,"color":"#9a9a9a"},{"offset":0.06,"color":"#9a9a9a"},{"offset":0.06,"color":"rgba(255,255,255,0)"},{"offset":0.145,"color":"rgba(255,255,255,0)"},{"offset":0.145,"color":"#9a9a9a"},{"offset":0.185,"color":"#9a9a9a"},{"offset":0.185,"color":"rgba(255,255,255,0)"},{"offset":0.27,"color":"rgba(255,255,255,0)"},{"offset":0.27,"color":"#9a9a9a"},{"offset":0.31,"color":"#9a9a9a"},{"offset":0.31,"color":"rgba(255,255,255,0)"},{"offset":0.395,"color":"rgba(255,255,255,0)"},{"offset":0.395,"color":"#9a9a9a"},{"offset":0.435,"color":"#9a9a9a"},{"offset":0.435,"color":"rgba(255,255,255,0)"},{"offset":0.52,"color":"rgba(255,255,255,0)"},{"offset":0.52,"color":"#9a9a9a"},{"offset":0.56,"color":"#9a9a9a"},{"offset":0.56,"color":"rgba(255,255,255,0)"},{"offset":0.645,"color":"rgba(255,255,255,0)"},{"offset":0.645,"color":"#9a9a9a"},{"offset":0.685,"color":"#9a9a9a"},{"offset":0.685,"color":"rgba(255,255,255,0)"},{"offset":0.77,"color":"rgba(255,255,255,0)"},{"offset":0.77,"color":"#9a9a9a"},{"offset":0.81,"color":"#9a9a9a"},{"offset":0.81,"color":"rgba(255,255,255,0)"},{"offset":0.895,"color":"rgba(255,255,255,0)"},{"offset":0.895,"color":"#9a9a9a"},{"offset":0.935,"color":"#9a9a9a"},{"offset":0.935,"color":"rgba(255,255,255,0)"},{"offset":1,"color":"rgba(255,255,255,0)"}]},"stroke":"#b8b8b8","strokeWidth":1,"clip":true},"encoding":{"x":{"field":"lo","type":"quantitative","axis":{"orient":"top","values":[20,30,40,50,60,70,80,90,100,200,300,400,500],"labels":false,"title":null,"tickSize":{"condition":{"test":"datum.value == 100","value":-9},"value":-5}}},"x2":{"field":"hi"},"y":{"field":"clo","type":"quantitative","axis":{"orient":"right","values":[0.1,0.2,0.3,0.4,0.5,0.6,0.7,0.8,0.9,1,1.1,1.2,1.3,1.4,1.5,1.6,1.7,1.8,1.9,2,2.1,2.2],"labels":false,"title":null,"tickSize":{"condition":{"test":"abs(datum.value*2-round(datum.value*2))<0.001","value":-9},"value":-4.5}}},"y2":{"field":"chi"}}},
{"mark":{"type":"rule","stroke":"#000","strokeDash":[1.5,1.5],"strokeWidth":1.1,"clip":true},"encoding":{"x":{"field":"lo","type":"quantitative","axis":null},"x2":{"field":"hi"},"y":{"field":"ahi","type":"quantitative","axis":{"orient":"left","values":[0.5,1,1.5,2],"ticks":false,"labelPadding":3,"format":"~g","labelFontSize":12.5,"title":"Ratio wrt NLO pQCD (CT10)","titleFontSize":13.5,"titleFontWeight":"bold","titleY":95,"titlePadding":9}}}},
{"mark":{"type":"rule","stroke":"#000","strokeDash":[1.5,1.5],"strokeWidth":1.1,"clip":true},"encoding":{"x":{"field":"lo","type":"quantitative","axis":null},"x2":{"field":"hi"},"y":{"field":"alo","type":"quantitative","axis":null}}},
{"mark":{"type":"rule","stroke":"#555","strokeDash":[4,2.5],"strokeWidth":1.2,"clip":true},"encoding":{"x":{"field":"lo","type":"quantitative","axis":null},"x2":{"field":"hi"},"y":{"field":"hhi","type":"quantitative","axis":null}}},
{"mark":{"type":"rule","stroke":"#555","strokeDash":[4,2.5],"strokeWidth":1.2,"clip":true},"encoding":{"x":{"field":"lo","type":"quantitative","axis":null},"x2":{"field":"hi"},"y":{"field":"hlo","type":"quantitative","axis":null}}},
{"mark":{"type":"rule","stroke":"#333","strokeWidth":1.3,"clip":true},"encoding":{"x":{"field":"lo","type":"quantitative","axis":null},"x2":{"field":"hi"},"y":{"field":"shi","type":"quantitative","axis":null}}},
{"mark":{"type":"rule","stroke":"#333","strokeWidth":1.3,"clip":true},"encoding":{"x":{"field":"lo","type":"quantitative","axis":null},"x2":{"field":"hi"},"y":{"field":"slo","type":"quantitative","axis":null}}},
{"mark":{"type":"rule","stroke":"#333","strokeWidth":1.3,"clip":true},"encoding":{"x":{"field":"lo","type":"quantitative","axis":null},"y":{"field":"pshi","type":"quantitative","axis":null},"y2":{"field":"shi"}}},
{"mark":{"type":"rule","stroke":"#333","strokeWidth":1.3,"clip":true},"encoding":{"x":{"field":"lo","type":"quantitative","axis":null},"y":{"field":"pslo","type":"quantitative","axis":null},"y2":{"field":"slo"}}},
{"transform":[{"filter":"datum.nlo == null"}],"mark":{"type":"rule","stroke":"#333","strokeWidth":1.3,"clip":true},"encoding":{"x":{"field":"hi","type":"quantitative","axis":null},"y":{"field":"slo","type":"quantitative","axis":null},"y2":{"field":"shi"}}},
{"mark":{"type":"rule","stroke":"#000","strokeWidth":1.3,"clip":true},"encoding":{"x":{"field":"lo","type":"quantitative","axis":null},"x2":{"field":"hi"},"y":{"field":"v","type":"quantitative","axis":null}}},
{"mark":{"type":"rule","stroke":"#000","strokeWidth":1.3,"clip":true},"encoding":{"x":{"field":"xc","type":"quantitative","axis":null},"y":{"field":"elo","type":"quantitative","axis":null},"y2":{"field":"ehi"}}},
{"mark":{"type":"point","filled":true,"shape":"circle","size":38,"color":"#000","opacity":1,"clip":true},"encoding":{"x":{"field":"xc","type":"quantitative","axis":null},"y":{"field":"v","type":"quantitative","axis":null}}},
{"transform":[{"filter":"datum.lo == 20"}],"mark":{"type":"text","text":"2.1 ≤ |y| < 2.8","align":"left","baseline":"middle","fontSize":9.5},"encoding":{"x":{"datum":22.9,"type":"quantitative","axis":null},"y":{"datum":2.0,"type":"quantitative","axis":null}}}
]},
{"width":260,"height":95,"data":{"name":"d"},
"transform":[{"filter":"datum.p == 'R2'"},{"window":[{"op":"lag","field":"shi","as":"pshi"},{"op":"lag","field":"slo","as":"pslo"},{"op":"lead","field":"lo","as":"nlo"}],"sort":[{"field":"lo"}]}],
"resolve":{"axis":{"x":"independent","y":"independent"}},
"layer":[
{"mark":{"type":"rect","fill":"#e3e3e3","clip":true},"encoding":{"x":{"field":"lo","type":"quantitative","scale":{"type":"log","domain":[20,500],"nice":false},"axis":{"orient":"bottom","values":[20,30,40,50,60,70,80,90,100,200,300,400,500],"labels":false,"title":null,"tickSize":{"condition":{"test":"datum.value == 100","value":-9},"value":-5}}},"x2":{"field":"hi"},"y":{"field":"slo","type":"quantitative","scale":{"domain":[0.07,2.3],"nice":false,"zero":false},"axis":{"orient":"left","values":[0.1,0.2,0.3,0.4,0.5,0.6,0.7,0.8,0.9,1,1.1,1.2,1.3,1.4,1.5,1.6,1.7,1.8,1.9,2,2.1,2.2],"labels":false,"title":null,"tickSize":{"condition":{"test":"abs(datum.value*2-round(datum.value*2))<0.001","value":-9},"value":-4.5}}},"y2":{"field":"shi"}}},
{"mark":{"type":"rect","fill":{"gradient":"linear","x1":-0.1,"y1":0.74,"x2":1.1,"y2":0.26,"stops":[{"offset":0,"color":"rgba(255,255,255,0)"},{"offset":0.02,"color":"rgba(255,255,255,0)"},{"offset":0.02,"color":"#9a9a9a"},{"offset":0.06,"color":"#9a9a9a"},{"offset":0.06,"color":"rgba(255,255,255,0)"},{"offset":0.145,"color":"rgba(255,255,255,0)"},{"offset":0.145,"color":"#9a9a9a"},{"offset":0.185,"color":"#9a9a9a"},{"offset":0.185,"color":"rgba(255,255,255,0)"},{"offset":0.27,"color":"rgba(255,255,255,0)"},{"offset":0.27,"color":"#9a9a9a"},{"offset":0.31,"color":"#9a9a9a"},{"offset":0.31,"color":"rgba(255,255,255,0)"},{"offset":0.395,"color":"rgba(255,255,255,0)"},{"offset":0.395,"color":"#9a9a9a"},{"offset":0.435,"color":"#9a9a9a"},{"offset":0.435,"color":"rgba(255,255,255,0)"},{"offset":0.52,"color":"rgba(255,255,255,0)"},{"offset":0.52,"color":"#9a9a9a"},{"offset":0.56,"color":"#9a9a9a"},{"offset":0.56,"color":"rgba(255,255,255,0)"},{"offset":0.645,"color":"rgba(255,255,255,0)"},{"offset":0.645,"color":"#9a9a9a"},{"offset":0.685,"color":"#9a9a9a"},{"offset":0.685,"color":"rgba(255,255,255,0)"},{"offset":0.77,"color":"rgba(255,255,255,0)"},{"offset":0.77,"color":"#9a9a9a"},{"offset":0.81,"color":"#9a9a9a"},{"offset":0.81,"color":"rgba(255,255,255,0)"},{"offset":0.895,"color":"rgba(255,255,255,0)"},{"offset":0.895,"color":"#9a9a9a"},{"offset":0.935,"color":"#9a9a9a"},{"offset":0.935,"color":"rgba(255,255,255,0)"},{"offset":1,"color":"rgba(255,255,255,0)"}]},"stroke":"#b8b8b8","strokeWidth":1,"clip":true},"encoding":{"x":{"field":"lo","type":"quantitative","axis":{"orient":"top","values":[20,30,40,50,60,70,80,90,100,200,300,400,500],"labels":false,"title":null,"tickSize":{"condition":{"test":"datum.value == 100","value":-9},"value":-5}}},"x2":{"field":"hi"},"y":{"field":"clo","type":"quantitative","axis":{"orient":"right","values":[0.1,0.2,0.3,0.4,0.5,0.6,0.7,0.8,0.9,1,1.1,1.2,1.3,1.4,1.5,1.6,1.7,1.8,1.9,2,2.1,2.2],"labels":false,"title":null,"tickSize":{"condition":{"test":"abs(datum.value*2-round(datum.value*2))<0.001","value":-9},"value":-4.5}}},"y2":{"field":"chi"}}},
{"mark":{"type":"rule","stroke":"#000","strokeDash":[1.5,1.5],"strokeWidth":1.1,"clip":true},"encoding":{"x":{"field":"lo","type":"quantitative","axis":null},"x2":{"field":"hi"},"y":{"field":"ahi","type":"quantitative","axis":{"orient":"left","values":[0.5,1,1.5,2],"ticks":false,"labelPadding":3,"format":"~g","labelFontSize":12.5,"title":null}}}},
{"mark":{"type":"rule","stroke":"#000","strokeDash":[1.5,1.5],"strokeWidth":1.1,"clip":true},"encoding":{"x":{"field":"lo","type":"quantitative","axis":null},"x2":{"field":"hi"},"y":{"field":"alo","type":"quantitative","axis":null}}},
{"mark":{"type":"rule","stroke":"#555","strokeDash":[4,2.5],"strokeWidth":1.2,"clip":true},"encoding":{"x":{"field":"lo","type":"quantitative","axis":null},"x2":{"field":"hi"},"y":{"field":"hhi","type":"quantitative","axis":null}}},
{"mark":{"type":"rule","stroke":"#555","strokeDash":[4,2.5],"strokeWidth":1.2,"clip":true},"encoding":{"x":{"field":"lo","type":"quantitative","axis":null},"x2":{"field":"hi"},"y":{"field":"hlo","type":"quantitative","axis":null}}},
{"mark":{"type":"rule","stroke":"#333","strokeWidth":1.3,"clip":true},"encoding":{"x":{"field":"lo","type":"quantitative","axis":null},"x2":{"field":"hi"},"y":{"field":"shi","type":"quantitative","axis":null}}},
{"mark":{"type":"rule","stroke":"#333","strokeWidth":1.3,"clip":true},"encoding":{"x":{"field":"lo","type":"quantitative","axis":null},"x2":{"field":"hi"},"y":{"field":"slo","type":"quantitative","axis":null}}},
{"mark":{"type":"rule","stroke":"#333","strokeWidth":1.3,"clip":true},"encoding":{"x":{"field":"lo","type":"quantitative","axis":null},"y":{"field":"pshi","type":"quantitative","axis":null},"y2":{"field":"shi"}}},
{"mark":{"type":"rule","stroke":"#333","strokeWidth":1.3,"clip":true},"encoding":{"x":{"field":"lo","type":"quantitative","axis":null},"y":{"field":"pslo","type":"quantitative","axis":null},"y2":{"field":"slo"}}},
{"transform":[{"filter":"datum.nlo == null"}],"mark":{"type":"rule","stroke":"#333","strokeWidth":1.3,"clip":true},"encoding":{"x":{"field":"hi","type":"quantitative","axis":null},"y":{"field":"slo","type":"quantitative","axis":null},"y2":{"field":"shi"}}},
{"mark":{"type":"rule","stroke":"#000","strokeWidth":1.3,"clip":true},"encoding":{"x":{"field":"lo","type":"quantitative","axis":null},"x2":{"field":"hi"},"y":{"field":"v","type":"quantitative","axis":null}}},
{"mark":{"type":"rule","stroke":"#000","strokeWidth":1.3,"clip":true},"encoding":{"x":{"field":"xc","type":"quantitative","axis":null},"y":{"field":"elo","type":"quantitative","axis":null},"y2":{"field":"ehi"}}},
{"mark":{"type":"point","filled":true,"shape":"circle","size":38,"color":"#000","opacity":1,"clip":true},"encoding":{"x":{"field":"xc","type":"quantitative","axis":null},"y":{"field":"v","type":"quantitative","axis":null}}},
{"transform":[{"filter":"datum.lo == 20"}],"mark":{"type":"text","text":"2.8 ≤ |y| < 3.6","align":"right","baseline":"middle","fontSize":9.5},"encoding":{"x":{"datum":430,"type":"quantitative","axis":null},"y":{"datum":2.1,"type":"quantitative","axis":null}}}
]},
{"width":260,"height":96,"data":{"name":"d"},
"transform":[{"filter":"datum.p == 'R3'"},{"window":[{"op":"lag","field":"shi","as":"pshi"},{"op":"lag","field":"slo","as":"pslo"},{"op":"lead","field":"lo","as":"nlo"}],"sort":[{"field":"lo"}]}],
"resolve":{"axis":{"x":"independent","y":"independent"}},
"layer":[
{"mark":{"type":"rect","fill":"#e3e3e3","clip":true},"encoding":{"x":{"field":"lo","type":"quantitative","scale":{"type":"log","domain":[20,500],"nice":false},"axis":{"orient":"bottom","values":[20,30,40,50,60,70,80,90,100,200,300,400,500],"labels":false,"title":null,"tickSize":{"condition":{"test":"datum.value == 100","value":-9},"value":-5}}},"x2":{"field":"hi"},"y":{"field":"slo","type":"quantitative","scale":{"domain":[0.07,2.3],"nice":false,"zero":false},"axis":{"orient":"left","values":[0.1,0.2,0.3,0.4,0.5,0.6,0.7,0.8,0.9,1,1.1,1.2,1.3,1.4,1.5,1.6,1.7,1.8,1.9,2,2.1,2.2],"labels":false,"title":null,"tickSize":{"condition":{"test":"abs(datum.value*2-round(datum.value*2))<0.001","value":-9},"value":-4.5}}},"y2":{"field":"shi"}}},
{"mark":{"type":"rect","fill":{"gradient":"linear","x1":-0.1,"y1":0.74,"x2":1.1,"y2":0.26,"stops":[{"offset":0,"color":"rgba(255,255,255,0)"},{"offset":0.02,"color":"rgba(255,255,255,0)"},{"offset":0.02,"color":"#9a9a9a"},{"offset":0.06,"color":"#9a9a9a"},{"offset":0.06,"color":"rgba(255,255,255,0)"},{"offset":0.145,"color":"rgba(255,255,255,0)"},{"offset":0.145,"color":"#9a9a9a"},{"offset":0.185,"color":"#9a9a9a"},{"offset":0.185,"color":"rgba(255,255,255,0)"},{"offset":0.27,"color":"rgba(255,255,255,0)"},{"offset":0.27,"color":"#9a9a9a"},{"offset":0.31,"color":"#9a9a9a"},{"offset":0.31,"color":"rgba(255,255,255,0)"},{"offset":0.395,"color":"rgba(255,255,255,0)"},{"offset":0.395,"color":"#9a9a9a"},{"offset":0.435,"color":"#9a9a9a"},{"offset":0.435,"color":"rgba(255,255,255,0)"},{"offset":0.52,"color":"rgba(255,255,255,0)"},{"offset":0.52,"color":"#9a9a9a"},{"offset":0.56,"color":"#9a9a9a"},{"offset":0.56,"color":"rgba(255,255,255,0)"},{"offset":0.645,"color":"rgba(255,255,255,0)"},{"offset":0.645,"color":"#9a9a9a"},{"offset":0.685,"color":"#9a9a9a"},{"offset":0.685,"color":"rgba(255,255,255,0)"},{"offset":0.77,"color":"rgba(255,255,255,0)"},{"offset":0.77,"color":"#9a9a9a"},{"offset":0.81,"color":"#9a9a9a"},{"offset":0.81,"color":"rgba(255,255,255,0)"},{"offset":0.895,"color":"rgba(255,255,255,0)"},{"offset":0.895,"color":"#9a9a9a"},{"offset":0.935,"color":"#9a9a9a"},{"offset":0.935,"color":"rgba(255,255,255,0)"},{"offset":1,"color":"rgba(255,255,255,0)"}]},"stroke":"#b8b8b8","strokeWidth":1,"clip":true},"encoding":{"x":{"field":"lo","type":"quantitative","axis":{"orient":"top","values":[20,30,40,50,60,70,80,90,100,200,300,400,500],"labels":false,"title":null,"tickSize":{"condition":{"test":"datum.value == 100","value":-9},"value":-5}}},"x2":{"field":"hi"},"y":{"field":"clo","type":"quantitative","axis":{"orient":"right","values":[0.1,0.2,0.3,0.4,0.5,0.6,0.7,0.8,0.9,1,1.1,1.2,1.3,1.4,1.5,1.6,1.7,1.8,1.9,2,2.1,2.2],"labels":false,"title":null,"tickSize":{"condition":{"test":"abs(datum.value*2-round(datum.value*2))<0.001","value":-9},"value":-4.5}}},"y2":{"field":"chi"}}},
{"mark":{"type":"rule","stroke":"#000","strokeDash":[1.5,1.5],"strokeWidth":1.1,"clip":true},"encoding":{"x":{"field":"lo","type":"quantitative","axis":{"orient":"bottom","values":[30,40,100,200],"ticks":false,"labelPadding":4,"labelFontSize":13,"labelFontWeight":"bold","labelOverlap":false,"labelFlush":false,"format":"d","labelExpr":"datum.value == 100 ? '10²' : datum.value == 200 ? '2×10²' : datum.label","title":"pₜ  [GeV]","titleFontSize":19.5,"titleFontWeight":"bold","titleAnchor":"end","titlePadding":2.5}},"x2":{"field":"hi"},"y":{"field":"ahi","type":"quantitative","axis":{"orient":"left","values":[0.5,1,1.5,2],"ticks":false,"labelPadding":3,"format":"~g","labelFontSize":12.5,"title":null}}}},
{"mark":{"type":"rule","stroke":"#000","strokeDash":[1.5,1.5],"strokeWidth":1.1,"clip":true},"encoding":{"x":{"field":"lo","type":"quantitative","axis":null},"x2":{"field":"hi"},"y":{"field":"alo","type":"quantitative","axis":null}}},
{"mark":{"type":"rule","stroke":"#555","strokeDash":[4,2.5],"strokeWidth":1.2,"clip":true},"encoding":{"x":{"field":"lo","type":"quantitative","axis":null},"x2":{"field":"hi"},"y":{"field":"hhi","type":"quantitative","axis":null}}},
{"mark":{"type":"rule","stroke":"#555","strokeDash":[4,2.5],"strokeWidth":1.2,"clip":true},"encoding":{"x":{"field":"lo","type":"quantitative","axis":null},"x2":{"field":"hi"},"y":{"field":"hlo","type":"quantitative","axis":null}}},
{"mark":{"type":"rule","stroke":"#333","strokeWidth":1.3,"clip":true},"encoding":{"x":{"field":"lo","type":"quantitative","axis":null},"x2":{"field":"hi"},"y":{"field":"shi","type":"quantitative","axis":null}}},
{"mark":{"type":"rule","stroke":"#333","strokeWidth":1.3,"clip":true},"encoding":{"x":{"field":"lo","type":"quantitative","axis":null},"x2":{"field":"hi"},"y":{"field":"slo","type":"quantitative","axis":null}}},
{"mark":{"type":"rule","stroke":"#333","strokeWidth":1.3,"clip":true},"encoding":{"x":{"field":"lo","type":"quantitative","axis":null},"y":{"field":"pshi","type":"quantitative","axis":null},"y2":{"field":"shi"}}},
{"mark":{"type":"rule","stroke":"#333","strokeWidth":1.3,"clip":true},"encoding":{"x":{"field":"lo","type":"quantitative","axis":null},"y":{"field":"pslo","type":"quantitative","axis":null},"y2":{"field":"slo"}}},
{"transform":[{"filter":"datum.nlo == null"}],"mark":{"type":"rule","stroke":"#333","strokeWidth":1.3,"clip":true},"encoding":{"x":{"field":"hi","type":"quantitative","axis":null},"y":{"field":"slo","type":"quantitative","axis":null},"y2":{"field":"shi"}}},
{"mark":{"type":"rule","stroke":"#000","strokeWidth":1.3,"clip":true},"encoding":{"x":{"field":"lo","type":"quantitative","axis":null},"x2":{"field":"hi"},"y":{"field":"v","type":"quantitative","axis":null}}},
{"mark":{"type":"rule","stroke":"#000","strokeWidth":1.3,"clip":true},"encoding":{"x":{"field":"xc","type":"quantitative","axis":null},"y":{"field":"elo","type":"quantitative","axis":null},"y2":{"field":"ehi"}}},
{"mark":{"type":"point","filled":true,"shape":"circle","size":38,"color":"#000","opacity":1,"clip":true},"encoding":{"x":{"field":"xc","type":"quantitative","axis":null},"y":{"field":"v","type":"quantitative","axis":null}}},
{"transform":[{"filter":"datum.lo == 20"}],"mark":{"type":"text","text":"3.6 ≤ |y| < 4.4","align":"right","baseline":"middle","fontSize":9.5},"encoding":{"x":{"datum":430,"type":"quantitative","axis":null},"y":{"datum":2.12,"type":"quantitative","axis":null}}}
]}
],"spacing":0,"bounds":"flush"}
],"spacing":26,"bounds":"full"},
{"width":125,"height":382,"view":{"stroke":null},"data":{"values":[{}]},
"layer":[
{"mark":{"type":"text","text":"ATLAS","fontSize":20,"fontWeight":"bold","fontStyle":"italic","align":"left","baseline":"alphabetic"},"encoding":{"x":{"datum":10,"type":"quantitative","scale":{"domain":[0,125],"nice":false,"zero":false},"axis":null},"y":{"datum":16,"type":"quantitative","scale":{"domain":[0,382],"reverse":true,"nice":false,"zero":false},"axis":null}}},
{"mark":{"type":"text","text":"∫","font":"DejaVu Sans","fontSize":26,"align":"left","baseline":"alphabetic"},"encoding":{"x":{"datum":0,"type":"quantitative","axis":null},"y":{"datum":58,"type":"quantitative","axis":null}}},
{"mark":{"type":"text","text":"L dt = 0.20 pb⁻¹","fontSize":13,"align":"left","baseline":"alphabetic"},"encoding":{"x":{"datum":17,"type":"quantitative","axis":null},"y":{"datum":57,"type":"quantitative","axis":null}}},
{"mark":{"type":"text","text":"√s = 2.76 TeV","fontSize":13,"align":"left","baseline":"alphabetic"},"encoding":{"x":{"datum":17,"type":"quantitative","axis":null},"y":{"datum":78,"type":"quantitative","axis":null}}},
{"mark":{"type":"text","text":"anti-kₜ R = 0.6","fontSize":13,"align":"left","baseline":"alphabetic"},"encoding":{"x":{"datum":20,"type":"quantitative","axis":null},"y":{"datum":95,"type":"quantitative","axis":null}}},
{"mark":{"type":"text","text":["Data with","statistical","uncertainty"],"lineHeight":14,"fontSize":13,"align":"left","baseline":"alphabetic"},"encoding":{"x":{"datum":45,"type":"quantitative","axis":null},"y":{"datum":125,"type":"quantitative","axis":null}}},
{"mark":{"type":"rule","stroke":"#000","strokeWidth":1.3},"encoding":{"x":{"datum":7,"type":"quantitative","axis":null},"x2":{"datum":35},"y":{"datum":134,"type":"quantitative","axis":null}}},
{"mark":{"type":"point","filled":true,"shape":"circle","size":38,"color":"#000","opacity":1},"encoding":{"x":{"datum":21,"type":"quantitative","axis":null},"y":{"datum":134,"type":"quantitative","axis":null}}},
{"mark":{"type":"text","text":["Systematic","uncertainties"],"lineHeight":15,"fontSize":13,"align":"left","baseline":"alphabetic"},"encoding":{"x":{"datum":45,"type":"quantitative","axis":null},"y":{"datum":173,"type":"quantitative","axis":null}}},
{"mark":{"type":"rect","fill":"#e3e3e3","stroke":"#333","strokeWidth":1.3},"encoding":{"x":{"datum":7,"type":"quantitative","axis":null},"x2":{"datum":33},"y":{"datum":168,"type":"quantitative","axis":null},"y2":{"datum":182}}},
{"mark":{"type":"text","text":["NLO pQCD ⊗","non-pert. corrections"],"lineHeight":16,"fontSize":13,"align":"left","baseline":"alphabetic"},"encoding":{"x":{"datum":2,"type":"quantitative","axis":null},"y":{"datum":211,"type":"quantitative","axis":null}}},
{"mark":{"type":"rect","fill":{"gradient":"linear","x1":-0.1,"y1":0.74,"x2":1.1,"y2":0.26,"stops":[{"offset":0,"color":"rgba(255,255,255,0)"},{"offset":0.02,"color":"rgba(255,255,255,0)"},{"offset":0.02,"color":"#9a9a9a"},{"offset":0.06,"color":"#9a9a9a"},{"offset":0.06,"color":"rgba(255,255,255,0)"},{"offset":0.145,"color":"rgba(255,255,255,0)"},{"offset":0.145,"color":"#9a9a9a"},{"offset":0.185,"color":"#9a9a9a"},{"offset":0.185,"color":"rgba(255,255,255,0)"},{"offset":0.27,"color":"rgba(255,255,255,0)"},{"offset":0.27,"color":"#9a9a9a"},{"offset":0.31,"color":"#9a9a9a"},{"offset":0.31,"color":"rgba(255,255,255,0)"},{"offset":0.395,"color":"rgba(255,255,255,0)"},{"offset":0.395,"color":"#9a9a9a"},{"offset":0.435,"color":"#9a9a9a"},{"offset":0.435,"color":"rgba(255,255,255,0)"},{"offset":0.52,"color":"rgba(255,255,255,0)"},{"offset":0.52,"color":"#9a9a9a"},{"offset":0.56,"color":"#9a9a9a"},{"offset":0.56,"color":"rgba(255,255,255,0)"},{"offset":0.645,"color":"rgba(255,255,255,0)"},{"offset":0.645,"color":"#9a9a9a"},{"offset":0.685,"color":"#9a9a9a"},{"offset":0.685,"color":"rgba(255,255,255,0)"},{"offset":0.77,"color":"rgba(255,255,255,0)"},{"offset":0.77,"color":"#9a9a9a"},{"offset":0.81,"color":"#9a9a9a"},{"offset":0.81,"color":"rgba(255,255,255,0)"},{"offset":0.895,"color":"rgba(255,255,255,0)"},{"offset":0.895,"color":"#9a9a9a"},{"offset":0.935,"color":"#9a9a9a"},{"offset":0.935,"color":"rgba(255,255,255,0)"},{"offset":1,"color":"rgba(255,255,255,0)"}]},"stroke":"#b8b8b8","strokeWidth":1.5},"encoding":{"x":{"datum":7,"type":"quantitative","axis":null},"x2":{"datum":33},"y":{"datum":258,"type":"quantitative","axis":null},"y2":{"datum":272}}},
{"mark":{"type":"text","text":"CT10","fontSize":13,"align":"left","baseline":"alphabetic"},"encoding":{"x":{"datum":45,"type":"quantitative","axis":null},"y":{"datum":271,"type":"quantitative","axis":null}}},
{"mark":{"type":"rule","stroke":"#000","strokeDash":[1.5,1.5],"strokeWidth":1.1},"encoding":{"x":{"datum":7,"type":"quantitative","axis":null},"x2":{"datum":32},"y":{"datum":288,"type":"quantitative","axis":null}}},
{"mark":{"type":"rule","stroke":"#000","strokeDash":[1.5,1.5],"strokeWidth":1.1},"encoding":{"x":{"datum":7,"type":"quantitative","axis":null},"x2":{"datum":32},"y":{"datum":301,"type":"quantitative","axis":null}}},
{"mark":{"type":"text","text":"HERA+ATLAS","fontSize":12.2,"align":"left","baseline":"alphabetic"},"encoding":{"x":{"datum":45,"type":"quantitative","axis":null},"y":{"datum":300,"type":"quantitative","axis":null}}},
{"mark":{"type":"rule","stroke":"#555","strokeDash":[4,2.5],"strokeWidth":1.2},"encoding":{"x":{"datum":7,"type":"quantitative","axis":null},"x2":{"datum":32},"y":{"datum":320,"type":"quantitative","axis":null}}},
{"mark":{"type":"rule","stroke":"#555","strokeDash":[4,2.5],"strokeWidth":1.2},"encoding":{"x":{"datum":7,"type":"quantitative","axis":null},"x2":{"datum":32},"y":{"datum":333,"type":"quantitative","axis":null}}},
{"mark":{"type":"text","text":"HERA I","fontSize":13,"align":"left","baseline":"alphabetic"},"encoding":{"x":{"datum":45,"type":"quantitative","axis":null},"y":{"datum":331,"type":"quantitative","axis":null}}}
]}
],
"spacing":19,
"bounds":"full"
}
